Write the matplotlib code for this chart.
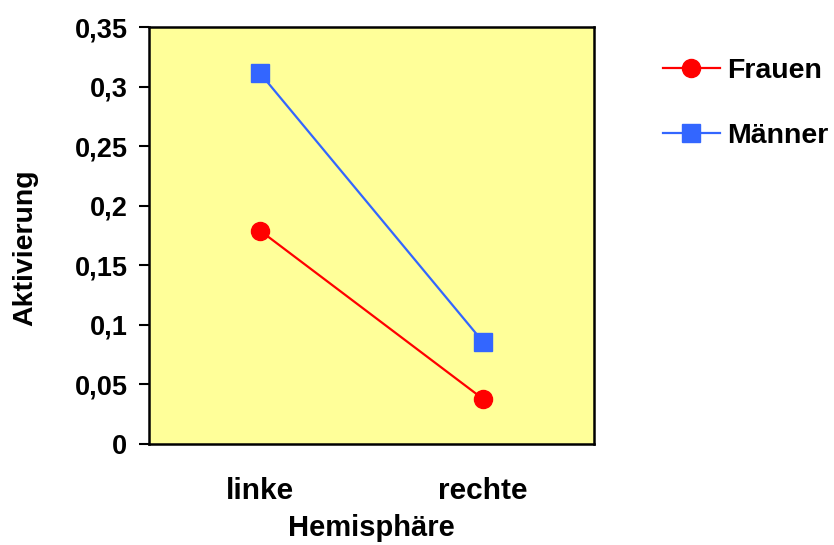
import numpy as np
import matplotlib
matplotlib.use('Agg')
import matplotlib.pyplot as plt
import matplotlib.ticker as ticker

hemisphere = ['linke', 'rechte']
frauen = [0.179, 0.038]
maenner = [0.311, 0.086]

plt.rcParams['font.family'] = ['Liberation Sans', 'DejaVu Sans']
plt.rcParams['font.weight'] = 'bold'

fig = plt.figure(figsize=(8.34, 5.45), dpi=100)
ax = fig.add_axes([149/834, 1-444/545, 445/834, 417/545])
ax.set_facecolor('#FFFF99')

x = np.arange(len(hemisphere))
ax.plot(x, frauen, color='#FF0000', lw=1.6, marker='o', ms=13,
        label='Frauen', zorder=3)
ax.plot(x, maenner, color='#3366FF', lw=1.6, marker='s', ms=12.5,
        label='Männer', zorder=3)

ax.set_xlim(-0.5, 1.5)
ax.set_ylim(0, 0.35)
ax.set_xticks(x)
ax.set_xticklabels(hemisphere, fontsize=21.5, fontweight='bold')
ax.yaxis.set_major_locator(ticker.MultipleLocator(0.05))
ax.yaxis.set_major_formatter(
    ticker.FuncFormatter(lambda v, p: ('%g' % round(v, 2)).replace('.', ',')))
ax.tick_params(axis='y', direction='out', length=7.5, width=1.5, pad=8,
               labelsize=19.5)
ax.tick_params(axis='x', length=0, pad=24)
for s in ax.spines.values():
    s.set_linewidth(1.8)
    s.set_color('black')

ax.set_ylabel('Aktivierung', fontsize=20.5, fontweight='bold', va='center')
ax.yaxis.set_label_coords(-0.279, 0.47)
ax.set_xlabel('Hemisphäre', fontsize=21, fontweight='bold', va='center')
ax.xaxis.set_label_coords(0.5, -0.2014)

fig.legend(loc='upper left', bbox_to_anchor=(663/834, 1-58/545),
           frameon=False, fontsize=20.5, handlelength=2.0,
           handletextpad=0.25, labelspacing=1.38, borderpad=0,
           borderaxespad=0)

fig.savefig('out.png', dpi=100)
